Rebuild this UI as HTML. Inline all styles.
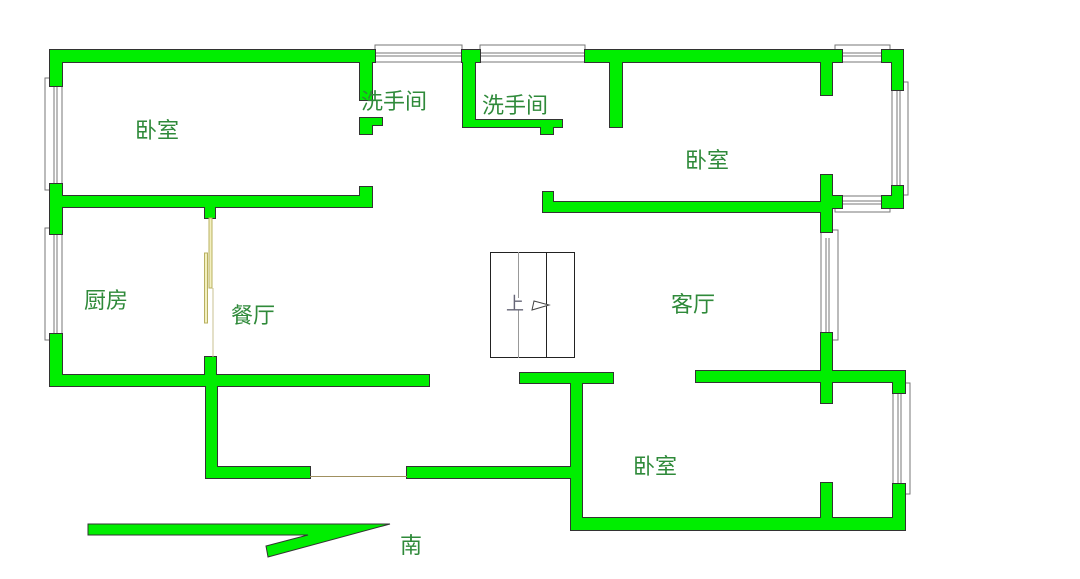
<!DOCTYPE html>
<html><head><meta charset="utf-8"><style>
html,body{margin:0;padding:0;background:#fff;}
svg{display:block;}
text{font-family:"Liberation Sans","Noto Sans CJK SC",sans-serif;fill:#2f8a3a;font-size:22px;}
</style></head><body>
<svg width="1080" height="579" viewBox="0 0 1080 579" xmlns="http://www.w3.org/2000/svg">
<defs>
<g id="w">
<rect x="50" y="50" width="325" height="12"/>
<rect x="462" y="50" width="18" height="12"/>
<rect x="585" y="50" width="257" height="12"/>
<rect x="882" y="50" width="21" height="12"/>
<rect x="892" y="50" width="11" height="40"/>
<rect x="882" y="196" width="21" height="12"/>
<rect x="892" y="186" width="11" height="22"/>
<rect x="50" y="50" width="12" height="36"/>
<rect x="50" y="184" width="12" height="50"/>
<rect x="50" y="334" width="12" height="52"/>
<rect x="360" y="62" width="12" height="38"/>
<rect x="360" y="118" width="12" height="16"/>
<rect x="360" y="118" width="22" height="7"/>
<rect x="463" y="62" width="12" height="64"/>
<rect x="463" y="120" width="99" height="7"/>
<rect x="541" y="120" width="12" height="14"/>
<rect x="610" y="62" width="12" height="65"/>
<rect x="821" y="62" width="11" height="33"/>
<rect x="50" y="196" width="322" height="11"/>
<rect x="360" y="187" width="12" height="20"/>
<rect x="205" y="207" width="10" height="11"/>
<rect x="205" y="357" width="11" height="18"/>
<rect x="543" y="202" width="289" height="10"/>
<rect x="543" y="192" width="10" height="20"/>
<rect x="821" y="175" width="11" height="57"/>
<rect x="821" y="196" width="21" height="12"/>
<rect x="821" y="333" width="11" height="70"/>
<rect x="50" y="375" width="379" height="11"/>
<rect x="206" y="375" width="11" height="103"/>
<rect x="206" y="467" width="104" height="11"/>
<rect x="407" y="467" width="175" height="11"/>
<rect x="520" y="373" width="93" height="10"/>
<rect x="571" y="373" width="11" height="157"/>
<rect x="571" y="518" width="334" height="12"/>
<rect x="696" y="371" width="209" height="11"/>
<rect x="893" y="371" width="12" height="22"/>
<rect x="893" y="484" width="12" height="46"/>
<rect x="821" y="483" width="11" height="37"/>
</g>
</defs>
<g fill="#fff" stroke="#777" stroke-width="1">
<rect x="375" y="45" width="87" height="17"/>
<line x1="375" y1="53" x2="462" y2="53"/><line x1="375" y1="56" x2="462" y2="56"/>
<rect x="480" y="45" width="105" height="17"/>
<line x1="480" y1="53" x2="585" y2="53"/><line x1="480" y1="56" x2="585" y2="56"/>
<rect x="835" y="45" width="55" height="17"/>
<line x1="842" y1="53" x2="882" y2="53"/><line x1="842" y1="56" x2="882" y2="56"/>
<rect x="835" y="196" width="55" height="16"/>
<line x1="842" y1="201" x2="882" y2="201"/><line x1="842" y1="204" x2="882" y2="204"/>
<rect x="892" y="82" width="16" height="113"/>
<line x1="897" y1="90" x2="897" y2="186"/><line x1="900" y1="90" x2="900" y2="186"/>
<rect x="45" y="78" width="17" height="112"/>
<line x1="54" y1="86" x2="54" y2="184"/><line x1="57" y1="86" x2="57" y2="184"/>
<rect x="45" y="228" width="17" height="112"/>
<line x1="54" y1="234" x2="54" y2="334"/><line x1="57" y1="234" x2="57" y2="334"/>
<rect x="821" y="230" width="17" height="110"/>
<line x1="826" y1="238" x2="826" y2="333"/><line x1="829" y1="238" x2="829" y2="333"/>
<rect x="893" y="383" width="17" height="111"/>
<line x1="898" y1="393" x2="898" y2="484"/><line x1="901" y1="393" x2="901" y2="484"/>
</g>
<use href="#w" fill="#333" stroke="#333" stroke-width="2"/>
<use href="#w" fill="#00ee00"/>
<rect x="209" y="218" width="3" height="70" fill="#f3f0c0" stroke="#b8b060" stroke-width="1"/>
<rect x="204.5" y="253" width="3" height="70" fill="#f3f0c0" stroke="#b8b060" stroke-width="1"/>
<line x1="213" y1="288" x2="213" y2="357" stroke="#c8c090" stroke-width="1"/>
<line x1="310" y1="476.5" x2="407" y2="476.5" stroke="#a09060" stroke-width="1"/>
<rect x="490.5" y="252.5" width="84" height="105" fill="#fff" stroke="#222" stroke-width="1"/>
<line x1="518.5" y1="252" x2="518.5" y2="298" stroke="#999"/>
<line x1="518.5" y1="310" x2="518.5" y2="358" stroke="#999"/>
<line x1="546.5" y1="252" x2="546.5" y2="358" stroke="#222"/>
<text x="506" y="310" style="fill:#667;font-size:18px">上</text>
<polygon points="534,301 549,305 532,310" fill="#fff" stroke="#444" stroke-width="1"/>
<polygon points="88,524 390,524 268,557 266,546 308,535 88,535" fill="#00ee00" stroke="#333" stroke-width="1"/>
<text x="135" y="138">卧室</text>
<text x="361" y="109">洗手间</text>
<text x="482" y="113">洗手间</text>
<text x="685" y="168">卧室</text>
<text x="84" y="308">厨房</text>
<text x="231" y="323">餐厅</text>
<text x="671" y="312">客厅</text>
<text x="633" y="474">卧室</text>
<text x="400" y="553">南</text>
</svg>
</body></html>
